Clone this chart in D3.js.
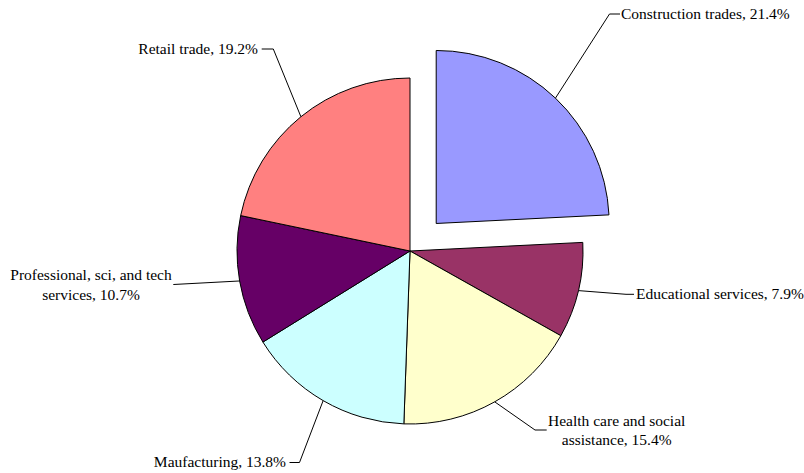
<!DOCTYPE html>
<html>
<head>
<meta charset="utf-8">
<script src="https://cdn.jsdelivr.net/npm/d3@7"></script>
<style>
  body { margin: 0; background: #fff; }
  svg text { font-family: "Liberation Serif", "Times New Roman", serif; font-size: 15.5px; fill: #000; }
</style>
</head>
<body>
<svg id="pieSVG" width="804" height="473"></svg>
<script>
// chart data
var categories = ["Construction trades", "Educational services", "Health care and social assistance",
                  "Maufacturing", "Professional, sci, and tech services", "Retail trade"];
var shares = [21.4, 7.9, 15.4, 13.8, 10.7, 19.2];
var colors = ["#9999FF", "#993366", "#FFFFCC", "#CCFFFF", "#660066", "#FF8080"];
var explode = [38, 0, 0, 0, 0, 0];

// label text is split onto lines the same way the original chart does it
var labelLines = [
  ["Construction trades, 21.4%"],
  ["Educational services, 7.9%"],
  ["Health care and social", "assistance, 15.4%"],
  ["Maufacturing, 13.8%"],
  ["Professional, sci, and tech", "services, 10.7%"],
  ["Retail trade, 19.2%"]
];

// where each label sits (layout only)
var labelLayout = [
  {x: 621,   y: 14,    anchor: "start",  elbowX: 609.5, edgeX: 620},
  {x: 636,   y: 294.3, anchor: "start",  elbowX: 626,   edgeX: 634},
  {x: 616.7, y: 430,   anchor: "middle", elbowX: 535,   edgeX: 546.7},
  {x: 286,   y: 462.5, anchor: "end",    elbowX: 299.5, edgeX: 289.5},
  {x: 91,    y: 284.5, anchor: "middle", elbowX: 173.3, edgeX: 173.3},
  {x: 258,   y: 49,    anchor: "end",    elbowX: 273.3, edgeX: 261.7}
];

var cx = 410, cy = 251, radius = 173;

var svg = d3.select("svg#pieSVG");

var pie = d3.pie().sort(null).value(d => d.value);
var arc = d3.arc().innerRadius(0).outerRadius(radius);

var data = categories.map((c, i) => ({name: c, value: shares[i], color: colors[i], explode: explode[i], i: i}));
var arcs = pie(data);

function offset(d) {
  var mid = (d.startAngle + d.endAngle) / 2;
  return [Math.sin(mid) * d.data.explode, -Math.cos(mid) * d.data.explode];
}

var g = svg.append("g").attr("transform", "translate(" + cx + "," + cy + ")");

g.selectAll("path.slice")
  .data(arcs)
  .enter()
  .append("path")
  .attr("class", "slice")
  .attr("d", arc)
  .attr("transform", d => "translate(" + offset(d) + ")")
  .style("fill", d => d.data.color)
  .style("stroke", "#000")
  .style("stroke-width", 1)
  .style("stroke-linejoin", "round");

// leader lines: from the arc at the slice's mid angle, to an elbow, then across to the text
svg.append("g")
  .selectAll("polyline")
  .data(arcs)
  .enter()
  .append("polyline")
  .attr("points", function(d) {
    var mid = (d.startAngle + d.endAngle) / 2;
    var o = offset(d);
    var sx = cx + o[0] + Math.sin(mid) * radius;
    var sy = cy + o[1] - Math.cos(mid) * radius;
    var L = labelLayout[d.data.i];
    return [[sx, sy], [L.elbowX, L.y], [L.edgeX, L.y]].map(p => p.join(",")).join(" ");
  })
  .style("fill", "none")
  .style("stroke", "#000")
  .style("stroke-width", 1);

var labels = svg.append("g")
  .selectAll("text")
  .data(arcs)
  .enter()
  .append("text")
  .attr("x", d => labelLayout[d.data.i].x)
  .attr("y", d => labelLayout[d.data.i].y)
  .style("text-anchor", d => labelLayout[d.data.i].anchor);

labels.each(function(d) {
  var lines = labelLines[d.data.i];
  var L = labelLayout[d.data.i];
  var t = d3.select(this);
  lines.forEach(function(line, k) {
    var dy = lines.length == 1 ? 4.5 : (k == 0 ? -4.5 : 15);
    t.append("tspan")
      .attr("x", L.x)
      .attr("y", L.y + dy)
      .text(line);
  });
});
</script>
</body>
</html>
